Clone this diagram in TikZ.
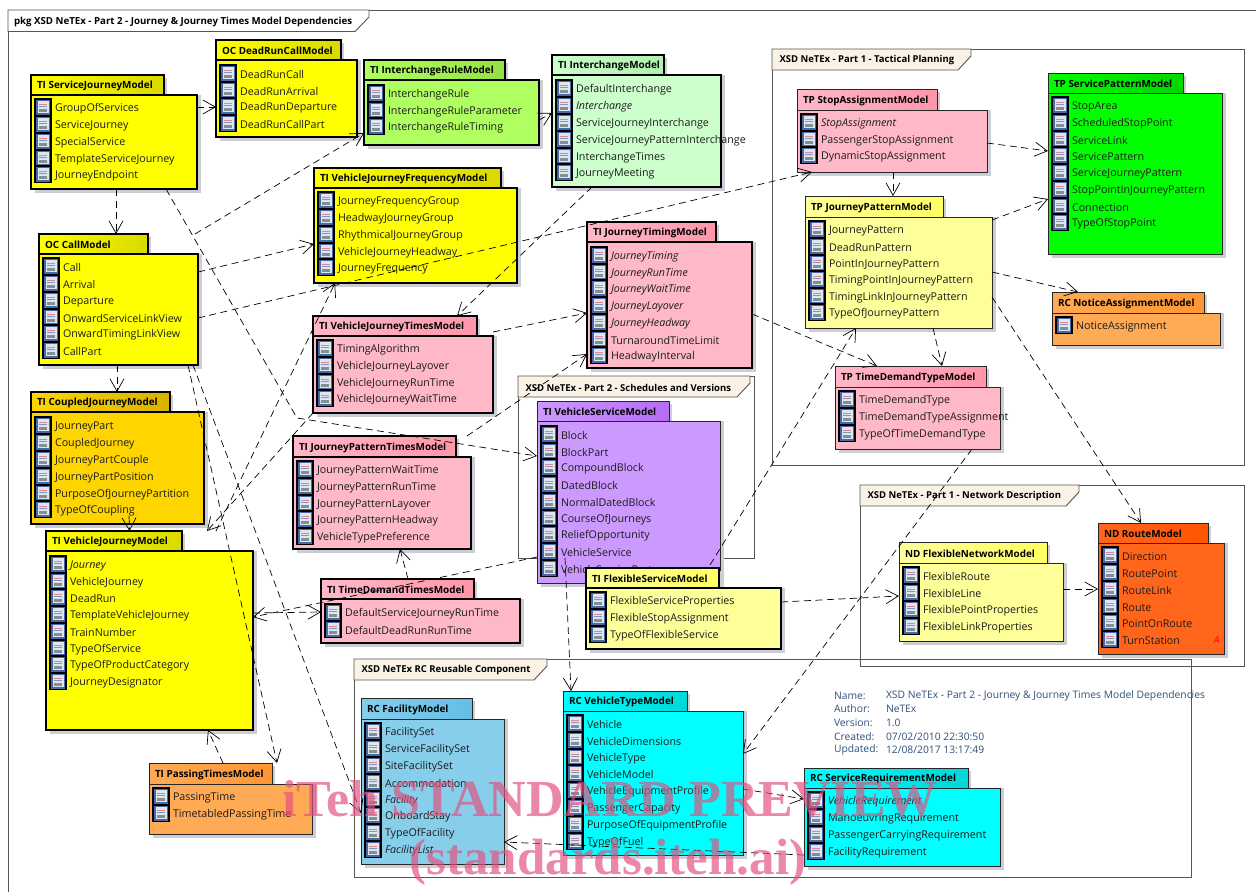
\documentclass[tikz,border=0pt]{standalone}
\usepackage{fontspec}
\setmainfont{Open Sans}
\newfontfamily\wmfont{Liberation Serif}
\usetikzlibrary{arrows.meta}
\definecolor{inkc}{HTML}{1C1C1C}
\definecolor{framec}{HTML}{555555}
\definecolor{tabc}{HTML}{FBF2E6}
\definecolor{shadowc}{HTML}{CDCDD6}
\definecolor{infoc}{HTML}{2F5078}
\definecolor{wmc}{HTML}{E2517F}
\definecolor{iconblue}{HTML}{4868AA}
\definecolor{iconpale}{HTML}{DEE6F2}
\definecolor{iconred}{HTML}{EB8282}
\definecolor{iconmid}{HTML}{7896C8}
\definecolor{icongrey}{HTML}{82918C}
\definecolor{yb}{HTML}{FFFF00}\definecolor{yt}{HTML}{D9D900}
\definecolor{gb}{HTML}{FFD500}\definecolor{gt}{HTML}{D6B200}
\definecolor{lb}{HTML}{B0FF60}\definecolor{lt}{HTML}{96E146}
\definecolor{mb}{HTML}{CCFFCC}\definecolor{mt}{HTML}{B0F0B0}
\definecolor{pb}{HTML}{FFB8C8}\definecolor{pt}{HTML}{FF96AA}
\definecolor{vb}{HTML}{CC99FF}\definecolor{vt}{HTML}{B46CF5}
\definecolor{sb}{HTML}{87CEEB}\definecolor{st}{HTML}{64BEE6}
\definecolor{cb}{HTML}{00FFFF}\definecolor{ct}{HTML}{00D7D7}
\definecolor{ab}{HTML}{FFFF99}\definecolor{at}{HTML}{FFFF64}
\definecolor{nb}{HTML}{00FF00}\definecolor{nt}{HTML}{00D700}
\definecolor{ob}{HTML}{FFAA55}\definecolor{ot}{HTML}{FF9632}
\definecolor{rb}{HTML}{FF661C}\definecolor{rt}{HTML}{FF5500}
\tikzset{
  x=1pt,y=-1pt,
  heavybox/.style={draw=black,line width=1.6pt},
  thinbox/.style={draw=black!85,line width=.9pt},
  pkgbox/.style={anchor=north west,inner sep=0pt,outer sep=0pt},
  itemtxt/.style={anchor=west,inner sep=0pt,outer sep=0pt,yshift=-1.5pt,font=\fontsize{10.7}{12}\selectfont,text=inkc},
  titletxt/.style={anchor=west,inner sep=0pt,outer sep=0pt,yshift=-1pt,font=\fontsize{9.9}{12}\bfseries\selectfont,text=black},
  frametxt/.style={anchor=west,inner sep=0pt,outer sep=0pt,yshift=-1pt,font=\fontsize{9.5}{12}\bfseries\selectfont,text=black},
  infotxt/.style={anchor=west,inner sep=0pt,outer sep=0pt,yshift=-1.5pt,font=\fontsize{10.3}{12}\selectfont,text=infoc},
  frameline/.style={draw=framec,line width=.9pt},
  depline/.style={draw=black,line width=.7pt,dash pattern=on 7pt off 4.5pt,
    -{Straight Barb[length=12.5pt,width=14pt,line width=.7pt]}},
  yellow body/.style={fill=yb},yellow tab/.style={left color=yb,right color=yt},
  gold body/.style={fill=gb},gold tab/.style={left color=gb,right color=gt},
  lime body/.style={fill=lb},lime tab/.style={left color=lb,right color=lt},
  mint body/.style={fill=mb},mint tab/.style={left color=mb,right color=mt},
  pink body/.style={fill=pb},pink tab/.style={left color=pb,right color=pt},
  violet body/.style={fill=vb},violet tab/.style={left color=vb,right color=vt},
  sky body/.style={fill=sb},sky tab/.style={left color=sb,right color=st},
  aqua body/.style={fill=cb},aqua tab/.style={left color=cb,right color=ct},
  pale body/.style={fill=ab},pale tab/.style={left color=ab,right color=at},
  leaf body/.style={fill=nb},leaf tab/.style={left color=nb,right color=nt},
  amber body/.style={fill=ob},amber tab/.style={left color=ob,right color=ot},
  flame body/.style={fill=rb},flame tab/.style={left color=rb,right color=rt},
}
% #1 border style, #2 name, #3 geometry x/top/tabRight/tabBottom/right/bottom, #4 theme, #5 title, #6 items y/text
\newcommand\pkg[6][thinbox]{%
  \foreach \xa/\ya/\xb/\yb/\xc/\yc in {#3}{%
    \pgfmathsetmacro\tabw{\xb-\xa}\pgfmathsetmacro\tabh{\yb-\ya}%
    \pgfmathsetmacro\bodyw{\xc-\xa}\pgfmathsetmacro\bodyh{\yc-\yb}%
    \fill[shadowc] (\xa+4,\yb) rectangle (\xc+3.5,\yc+3.5);
    \fill[shadowc] (\xb,\ya+3) rectangle (\xb+3,\yb);
    \node[pkgbox,#1,#4 tab,minimum width=\tabw pt,minimum height=\tabh pt] (#2-tab) at (\xa,\ya) {};
    \node[pkgbox,#1,#4 body,minimum width=\bodyw pt,minimum height=\bodyh pt] (#2) at (\xa,\yb) {};
    \node[titletxt] (#2-title) at (\xa+6,{(\ya+\yb)/2}) {#5};
    \foreach \iy/\itxt in {#6}{%
      \fill[black] (\xa+3,\iy-9) rectangle (\xa+21,\iy+9);
      \fill[iconblue] (\xa+5,\iy-7.5) rectangle (\xa+19,\iy+7.5);
      \fill[iconpale] (\xa+6.5,\iy-6.2) rectangle (\xa+17.5,\iy+6.2);
      \fill[iconred] (\xa+8,\iy-3.2) rectangle (\xa+16,\iy-2.4);
      \fill[iconmid] (\xa+8,\iy-0.8) rectangle (\xa+16,\iy-0.1);
      \fill[icongrey] (\xa+8,\iy+1.6) rectangle (\xa+16,\iy+4.6);
      \node[itemtxt] (#2-\iy) at (\xa+24,\iy) {\itxt};
    }%
  }%
}
% #1 name, #2 x/top/right/bottom/tabTopRight/tabBottom, #3 title
\newcommand\pkgframe[3]{%
  \foreach \xa/\ya/\xb/\yb/\xt/\yt in {#2}{%
    \pgfmathsetmacro\framew{\xb-\xa}\pgfmathsetmacro\frameh{\yb-\ya}%
    \node[pkgbox,frameline,minimum width=\framew pt,minimum height=\frameh pt] (#1) at (\xa,\ya) {};
    \filldraw[frameline,fill=tabc] (\xa,\ya) -- (\xt,\ya) -- (\xt,\ya+7) -- (\xt-13,\yt) -- (\xa,\yt) -- cycle;
    \node[frametxt] (#1-title) at (\xa+7.5,{(\ya+\yt)/2}) {#3};
  }%
}
\begin{document}
\begin{tikzpicture}
\useasboundingbox (0,0) rectangle (1256,892);
\fill[white] (0,0) rectangle (1256,892);
% diagram frame
\draw[frameline] (8,892) -- (8,10) -- (1256,10);
\filldraw[frameline,fill=white] (8,10) -- (369,10) -- (369,17) -- (355,31.5) -- (8,31.5) -- cycle;
\node[frametxt,font=\fontsize{9.7}{12}\bfseries\selectfont] (diagramtitle) at (14,20.5) {pkg XSD NeTEx - Part 2 - Journey \& Journey Times Model Dependencies};
% package frames
\pkgframe{tactical}{772/49/1244/465/971/70}{XSD NeTEx - Part 1 - Tactical Planning}
\pkgframe{network}{860/485/1244/666/1079/506}{XSD NeTEx - Part 1 - Network Description}
\pkgframe{schedules}{518/376/754/558/750/397}{XSD NeTEx - Part 2 - Schedules and Versions}
\pkgframe{reusable}{354/659/1191/877/547/680}{XSD NeTEx RC Reusable Component}
% packages
\pkg[heavybox]{sj}{31/75/164/95/197/189}{yellow}{TI ServiceJourneyModel}{107/GroupOfServices,124/ServiceJourney,141/SpecialService,158/TemplateServiceJourney,174/JourneyEndpoint}
\pkg[heavybox]{drc}{216/40/341/60/357/137}{yellow}{OC DeadRunCallModel}{73/DeadRunCall,90/DeadRunArrival,106/DeadRunDeparture,123/DeadRunCallPart}
\pkg[heavybox]{irule}{364/60/505/80/539/145}{lime}{TI InterchangeRuleModel}{93/InterchangeRule,110/InterchangeRuleParameter,126/InterchangeRuleTiming}
\pkg[heavybox]{inter}{552/55/664/75/721/187}{mint}{TI InterchangeModel}{88/DefaultInterchange,105/{\itshape Interchange},122/ServiceJourneyInterchange,139/ServiceJourneyPatternInterchange,156/InterchangeTimes,172/JourneyMeeting}
\pkg[heavybox]{vjf}{314/168/501/188/517/283}{yellow}{TI VehicleJourneyFrequencyModel}{200/JourneyFrequencyGroup,217/HeadwayJourneyGroup,234/RhythmicalJourneyGroup,251/VehicleJourneyHeadway,267/JourneyFrequency}
\pkg[heavybox]{call}{39/234/148/254/198/365}{yellow}{OC CallModel}{266/Call,283/Arrival,300/Departure,317/OnwardServiceLinkView,333/OnwardTimingLinkView,350/CallPart}
\pkg[heavybox]{coupled}{31/392/170/412/204/524}{gold}{TI CoupledJourneyModel}{425/JourneyPart,442/CoupledJourney,459/JourneyPartCouple,476/JourneyPartPosition,493/PurposeOfJourneyPartition,509/TypeOfCoupling}
\pkg[heavybox]{vj}{46/531/182/551/253/730}{yellow}{TI VehicleJourneyModel}{564/{\itshape Journey},581/VehicleJourney,597/DeadRun,614/TemplateVehicleJourney,631/TrainNumber,648/TypeOfService,664/TypeOfProductCategory,681/JourneyDesignator}
\pkg{pass}{149/763/272/784/312/834}{amber}{TI PassingTimesModel}{796/PassingTime,813/TimetabledPassingTime}
\pkg[heavybox]{vjt}{313/316/477/336/493/413}{pink}{TI VehicleJourneyTimesModel}{348/TimingAlgorithm,365/VehicleJourneyLayover,382/VehicleJourneyRunTime,398/VehicleJourneyWaitTime}
\pkg[heavybox]{jt}{587/222/716/242/752/368}{pink}{TI JourneyTimingModel}{255/{\itshape JourneyTiming},272/{\itshape JourneyRunTime},288/{\itshape JourneyWaitTime},305/{\itshape JourneyLayover},322/{\itshape JourneyHeadway},339/TurnaroundTimeLimit,355/HeadwayInterval}
\pkg[heavybox]{jpt}{293/436/456/457/471/549}{pink}{TI JourneyPatternTimesModel}{469/JourneyPatternWaitTime,486/JourneyPatternRunTime,503/JourneyPatternLayover,519/JourneyPatternHeadway,536/VehicleTypePreference}
\pkg[heavybox]{tdt}{321/579/474/599/520/643}{pink}{TI TimeDemandTimesModel}{612/DefaultServiceJourneyRunTime,629/DefaultDeadRunRunTime}
\pkg{vs}{537/401/669/421/720/583}{violet}{TI VehicleServiceModel}{434/Block,451/BlockPart,467/CompoundBlock,484/DatedBlock,501/NormalDatedBlock,518/CourseOfJourneys,534/ReliefOpportunity,551/VehicleService,568/VehicleServicePart}
\pkg[heavybox]{fs}{586/568/719/588/781/649}{pale}{TI FlexibleServiceModel}{600/FlexibleServiceProperties,617/FlexibleStopAssignment,634/TypeOfFlexibleService}
\pkg{vt}{563/691/687/711/743/855}{aqua}{RC VehicleTypeModel}{723/Vehicle,740/VehicleDimensions,757/VehicleType,773/VehicleModel,790/VehicleEquipmentProfile,807/PassengerCapacity,824/PurposeOfEquipmentProfile,841/TypeOfFuel}
\pkg{fac}{361/698/472/719/504/864}{sky}{RC FacilityModel}{731/FacilitySet,748/ServiceFacilitySet,765/SiteFacilitySet,782/Accommodation,799/{\itshape Facility},815/OnboardStay,832/TypeOfFacility,849/{\itshape FacilityList}}
\pkg{sr}{804/768/968/788/1000/866}{aqua}{RC ServiceRequirementModel}{800/{\itshape VehicleRequirement},817/ManoeuvringRequirement,834/PassengerCarryingRequirement,851/FacilityRequirement}
\pkg{stop}{797/89/937/110/987/172}{pink}{TP StopAssignmentModel}{122/{\itshape StopAssignment},139/PassengerStopAssignment,155/DynamicStopAssignment}
\pkg{jp}{805/196/943/217/992/328}{pale}{TP JourneyPatternModel}{229/JourneyPattern,246/DeadRunPattern,263/PointInJourneyPattern,279/TimingPointInJourneyPattern,296/TimingLinkInJourneyPattern,312/TypeOfJourneyPattern}
\pkg{sp}{1048/73/1183/93/1222/254}{leaf}{TP ServicePatternModel}{105/StopArea,122/ScheduledStopPoint,139/ServiceLink,155/ServicePattern,172/ServiceJourneyPattern,189/StopPointInJourneyPattern,206/Connection,222/TypeOfStopPoint}
\pkg{notice}{1052/292/1204/313/1220/345}{amber}{RC NoticeAssignmentModel}{325/NoticeAssignment}
\pkg{tdtype}{835/366/986/387/1000/449}{pink}{TP TimeDemandTypeModel}{399/TimeDemandType,416/TimeDemandTypeAssignment,433/TypeOfTimeDemandType}
\pkg{fn}{899/542/1047/563/1063/641}{pale}{ND FlexibleNetworkModel}{575/FlexibleRoute,592/FlexibleLine,609/FlexiblePointProperties,626/FlexibleLinkProperties}
\pkg{route}{1098/523/1208/543/1224/654}{flame}{ND RouteModel}{555/Direction,572/RoutePoint,589/RouteLink,606/Route,622/PointOnRoute,639/TurnStation}
\node[anchor=center,inner sep=0pt,font=\fontsize{10}{12}\itshape\selectfont,text=red] (abstractmark) at (1217,640) {A};
% information
\node[infotxt] (infol1) at (834,694) {Name:};
\node[infotxt] (infol2) at (834,707) {Author:};
\node[infotxt] (infol3) at (834,721) {Version:};
\node[infotxt] (infol4) at (834,735) {Created:};
\node[infotxt] (infol5) at (834,748) {Updated:};
\node[infotxt] (infov1) at (886,694) {XSD NeTEx - Part 2 - Journey \& Journey Times Model Dependencies};
\node[infotxt] (infov2) at (886,707) {NeTEx};
\node[infotxt] (infov3) at (886,721) {1.0};
\node[infotxt] (infov4) at (886,735) {07/02/2010 22:30:50};
\node[infotxt] (infov5) at (886,748) {12/08/2017 13:17:49};
% dependencies
\draw[depline] (sj.east |- 0,107) -- (drc.west |- 0,107);
\draw[depline] (sj.south -| 116,0) -- (call-tab.north -| 116,0);
\draw[depline] (call-tab.north -| 195,0) -- (irule.west |- 0,133);
\draw[depline] (irule.east |- 0,120) -- (inter.west |- 0,113);
\draw[depline] (sj.south -| 166,0) -- (297,418) -- (vs.west |- 0,456);
\draw[depline] (call.east |- 0,272) -- (vjf.west |- 0,244);
\draw[depline] (call.east |- 0,318) -- (stop.south -| 812,0);
\draw[depline] (vj-tab.north -| 216,0) -- (vjf.south -| 335,0);
\draw[depline] (inter.south -| 592,0) -- (vjt-tab.north -| 457,0);
\draw[depline] (vjt.south -| 313,0) -- (vj-tab.north -| 207,0);
\draw[depline] (vjt.east |- 0,332) -- (jt.west |- 0,313);
\draw[depline] (jpt-tab.north -| 467,0) -- (jt.west |- 0,354);
\draw[depline] (jt.east |- 0,314) -- (tdtype-tab.north -| 877,0);
\draw[depline] (stop.south -| 893,0) -- (jp-tab.north -| 893,0);
\draw[depline] (stop.east |- 0,143) -- (sp.west |- 0,151);
\draw[depline] (jp.east |- 0,220) -- (sp.west |- 0,199);
\draw[depline] (jp.east |- 0,272) -- (notice-tab.north -| 1078,0);
\draw[depline] (jp.south -| 933,0) -- (tdtype-tab.north -| 942,0);
\draw[depline] (jp.east |- 0,297) -- (route-tab.north -| 1141,0);
\draw[depline] (tdtype.south -| 972,0) -- (vt.east |- 0,754);
\draw[depline] (fs.east |- 0,602) -- (fn.west |- 0,596);
\draw[depline] (fn.east |- 0,589) -- (route.west |- 0,589);
\draw[depline] (vs.west |- 0,558) ++(28,0) -- (vt-tab.north -| 571,0);
\draw[depline] (fs-tab.north -| 710,0) ++(0,-3) -- (jp.south -| 856,0);
\draw[depline] (tdt-tab.north -| 408,0) -- (jpt.south -| 400,0);
\draw[depline] (vs.west |- 0,557) -- (vj.east |- 0,617);
\draw[depline] (vj.east |- 0,613) -- (tdt.west |- 0,612);
\draw[depline] (coupled.south -| 129,0) ++(0,-8) -- (vj-tab.north -| 129.5,0);
\draw[depline] (call.south -| 117,0) -- (coupled-tab.north -| 117,0);
\draw[depline] (call.south -| 188,0) -- (pass-tab.north -| 277,0);
\draw[depline] (call.south -| 193,0) -- (fac.west |- 0,813);
\draw[depline] (pass-tab.north -| 223,0) -- (vj.south -| 208,0);
\draw[depline] (sr.west |- 0,855) -- (fac.east |- 0,842);
\draw[depline] (vt.east |- 0,789) -- (sr.west |- 0,799);
% watermark
\node[anchor=center,inner sep=0pt,opacity=.68,text=wmc,font=\fontsize{52}{54}\bfseries\wmfont\selectfont] (wm1) at (610,799) {iTeh STANDARD PREVIEW};
\node[anchor=center,inner sep=0pt,opacity=.68,text=wmc,font=\fontsize{51}{54}\bfseries\wmfont\selectfont] (wm2) at (608,862) {(standards.iteh.ai)};
\end{tikzpicture}
\end{document}
